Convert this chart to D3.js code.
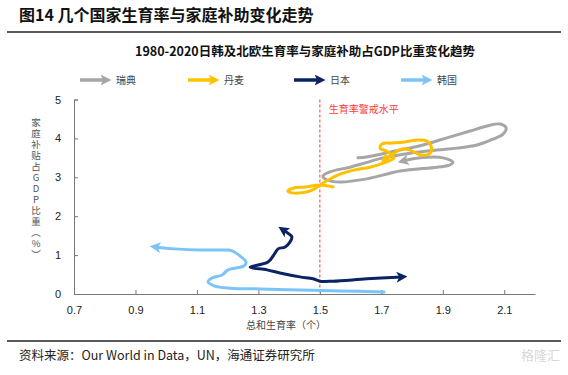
<!DOCTYPE html>
<html>
<head>
<meta charset="utf-8">
<script src="https://cdn.jsdelivr.net/npm/d3@7"></script>
<style>
  body { margin: 0; background: #fff; }
  svg { font-family: "Liberation Sans", Arial, sans-serif; }
  .cjk { font-family: "Noto Sans CJK SC", sans-serif; }
  .vtitle { writing-mode: vertical-rl; text-orientation: upright; }
</style>
</head>
<body>
<svg width="568" height="375"></svg>
<script>
var width = 568, height = 375;
var svg = d3.select("svg");

// 总和生育率 (x) vs 家庭补助占GDP比重 (y)
var sweden = [[1.624,3.50],[1.670,3.55],[1.712,3.62],[1.761,3.70],[1.836,3.83],[1.924,4.04],[1.989,4.19],[2.044,4.32],[2.086,4.37],[2.106,4.27],[2.096,4.11],[2.063,3.98],[2.011,3.83],[1.946,3.75],[1.881,3.70],[1.793,3.62],[1.706,3.50],[1.647,3.37],[1.598,3.26],[1.533,3.14],[1.510,3.03],[1.523,2.93],[1.566,2.88],[1.653,2.96],[1.761,3.16],[1.881,3.26],[1.924,3.32],[1.933,3.39],[1.901,3.50],[1.826,3.50],[1.771,3.42]];
var denmark = [[1.543,2.75],[1.500,2.80],[1.452,2.75],[1.413,2.72],[1.396,2.65],[1.409,2.60],[1.442,2.60],[1.475,2.67],[1.500,2.80],[1.527,2.93],[1.566,3.08],[1.614,3.19],[1.663,3.26],[1.709,3.37],[1.741,3.50],[1.722,3.65],[1.696,3.75],[1.702,3.86],[1.735,3.88],[1.777,3.91],[1.819,3.96],[1.849,3.93],[1.862,3.80],[1.862,3.65],[1.845,3.57],[1.819,3.60],[1.793,3.70],[1.767,3.73],[1.748,3.65],[1.728,3.55],[1.712,3.45]];
var japan = [[1.767,0.44],[1.653,0.39],[1.543,0.33],[1.500,0.33],[1.478,0.39],[1.435,0.44],[1.370,0.54],[1.328,0.62],[1.273,0.69],[1.331,0.82],[1.354,1.05],[1.364,1.16],[1.387,1.21],[1.403,1.34],[1.409,1.47],[1.400,1.54],[1.380,1.65]];
var korea = [[1.709,0.05],[1.566,0.08],[1.435,0.10],[1.305,0.13],[1.208,0.15],[1.156,0.21],[1.136,0.31],[1.149,0.41],[1.182,0.49],[1.201,0.62],[1.227,0.67],[1.253,0.72],[1.260,0.82],[1.240,0.98],[1.214,1.11],[1.191,1.13],[1.110,1.13],[1.029,1.16],[0.964,1.21]];

var seriesNames = ["瑞典", "丹麦", "日本", "韩国"];
var seriesColors = ["#a6a6a6", "#ffc000", "#0c2363", "#7cc3f7"];
var seriesData = [sweden, denmark, japan, korea];
var xTicks = [0.7, 0.9, 1.1, 1.3, 1.5, 1.7, 1.9, 2.1];
var yTicks = [0, 1, 2, 3, 4, 5];
var warnLevel = 1.5;

var x = d3.scaleLinear().domain([0.7, 2.2]).range([74, 535]);
var y = d3.scaleLinear().domain([0, 5]).range([294, 99.5]);

// arrow markers
var defs = svg.append("defs");
seriesColors.forEach(function(c, i) {
    defs.append("marker")
        .attr("id", "arr" + i)
        .attr("markerUnits", "userSpaceOnUse")
        .attr("viewBox", "0 0 10 10")
        .attr("refX", 5).attr("refY", 5)
        .attr("markerWidth", 11).attr("markerHeight", 11)
        .attr("orient", "auto-start-reverse")
        .append("path")
        .attr("d", "M0,0 L10,5 L0,10 L2.5,5 Z")
        .attr("fill", c);
});

// titles
svg.append("text").attr("class", "cjk")
    .attr("x", 19).attr("y", 21)
    .attr("font-size", 16).attr("font-weight", "bold").attr("fill", "#111")
    .text("图14 几个国家生育率与家庭补助变化走势");
svg.append("line").attr("x1", 7).attr("x2", 561).attr("y1", 32).attr("y2", 32)
    .attr("stroke", "#222").attr("stroke-width", 1.5);
svg.append("text").attr("class", "cjk")
    .attr("x", 305).attr("y", 56).attr("text-anchor", "middle")
    .attr("font-size", 12.5).attr("font-weight", "bold").attr("fill", "#111")
    .text("1980-2020日韩及北欧生育率与家庭补助占GDP比重变化趋势");

// legend
var legendX = [80, 188, 294, 401];
var legend = svg.append("g");
seriesNames.forEach(function(n, i) {
    var g = legend.append("g").attr("transform", "translate(" + legendX[i] + ",80)");
    g.append("line").attr("x1", 0).attr("x2", 26).attr("y1", 0).attr("y2", 0)
        .attr("stroke", seriesColors[i]).attr("stroke-width", 3.5)
        .attr("marker-end", "url(#arr" + i + ")");
    g.append("text").attr("class", "cjk")
        .attr("x", 36).attr("y", 4).attr("font-size", 10).attr("fill", "#444")
        .text(n);
});

// axes
var xAxis = d3.axisBottom(x).tickValues(xTicks).tickSizeInner(-4).tickSizeOuter(0)
    .tickFormat(d3.format(".1f"));
var gx = svg.append("g").attr("transform", "translate(0,294)").call(xAxis);
gx.select(".domain").attr("stroke", "#777");
gx.selectAll(".tick line").attr("stroke", "#777");
gx.selectAll(".tick text").attr("font-size", 11).attr("fill", "#222")
    .attr("dy", "0").attr("y", 20)
    .attr("font-family", "Liberation Sans, Arial, sans-serif");

var yAxis = d3.axisLeft(y).tickValues(yTicks).tickSizeInner(-4).tickSizeOuter(-4)
    .tickFormat(d3.format("d"));
var gy = svg.append("g").attr("transform", "translate(74,0)").call(yAxis);
gy.select(".domain").attr("stroke", "#777");
gy.selectAll(".tick line").attr("stroke", "#777");
gy.selectAll(".tick text").attr("font-size", 11).attr("fill", "#222")
    .attr("x", -13)
    .attr("font-family", "Liberation Sans, Arial, sans-serif");

svg.append("text").attr("class", "cjk")
    .attr("x", 286).attr("y", 329).attr("text-anchor", "middle")
    .attr("font-size", 10).attr("fill", "#444")
    .text("总和生育率（个）");

// vertical y title
svg.append("text").attr("class", "cjk vtitle")
    .attr("x", 36).attr("y", 189)
    .attr("text-anchor", "middle")
    .attr("font-size", 9.5).attr("fill", "#555")
    .attr("letter-spacing", 1.5)
    .text("家庭补贴占GDP比重（%）");

// warning line
svg.append("line")
    .attr("x1", x(warnLevel)).attr("x2", x(warnLevel))
    .attr("y1", y(5)).attr("y2", y(0))
    .attr("stroke", "#ff3b3b").attr("stroke-width", 1).attr("stroke-dasharray", "3,2");
svg.append("text").attr("class", "cjk")
    .attr("x", x(warnLevel) + 9).attr("y", 113)
    .attr("font-size", 10).attr("fill", "#ff3b3b")
    .text("生育率警戒水平");

// curves
var line = d3.line()
    .x(function(d) { return x(d[0]); })
    .y(function(d) { return y(d[1]); })
    .curve(d3.curveCatmullRom.alpha(0.5));

seriesData.forEach(function(data, i) {
    var p = svg.append("path")
        .attr("d", line(data))
        .attr("fill", "none")
        .attr("stroke", seriesColors[i])
        .attr("stroke-width", 3)
        .attr("stroke-linejoin", "round")
        .attr("stroke-linecap", "round")
        .attr("marker-end", "url(#arr" + i + ")");
    if (i === 2) p.attr("marker-start", "url(#arr" + i + ")");
});

// footer
svg.append("line").attr("x1", 7).attr("x2", 561).attr("y1", 341).attr("y2", 341)
    .attr("stroke", "#222").attr("stroke-width", 1.5);
svg.append("text").attr("class", "cjk")
    .attr("x", 19).attr("y", 360)
    .attr("font-size", 12.5).attr("fill", "#222")
    .text("资料来源：Our World in Data，UN，海通证券研究所");
svg.append("text").attr("class", "cjk")
    .attr("x", 560).attr("y", 360).attr("text-anchor", "end")
    .attr("font-size", 13).attr("fill", "#d8d8d8")
    .text("格隆汇");
</script>
</body>
</html>
